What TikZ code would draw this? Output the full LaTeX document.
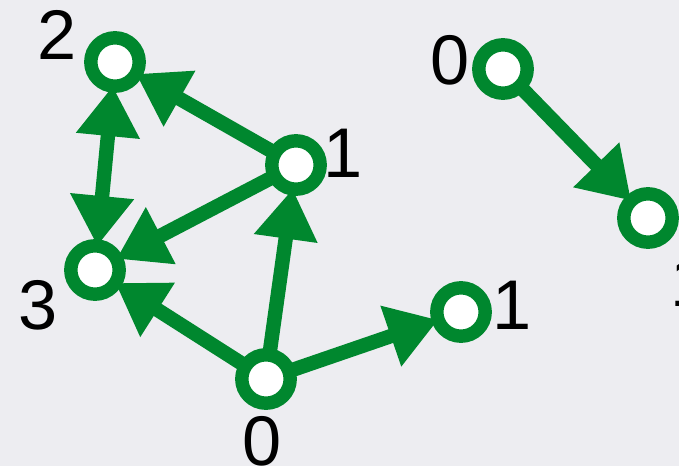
\documentclass[tikz,border=0pt]{standalone}
\usepackage{fontspec}
\setmainfont{Liberation Sans}
\usetikzlibrary{arrows.meta}
\definecolor{gGreen}{RGB}{0,135,46}
\definecolor{paper}{RGB}{237,237,241}

\begin{document}
\begin{tikzpicture}[x=0.025cm, y=-0.025cm,
    vertex/.style={circle, draw=gGreen, fill=white, line width=0.335cm,
        minimum size=1.21cm, inner sep=0pt, outer sep=0pt},
    edge/.style={gGreen, line width=0.36cm,
        -{Triangle[length=1.25cm, width=1.52cm]}},
    num/.style={font=\fontsize{50}{60}\selectfont, inner sep=0pt}
]

% background / frame
\fill[paper] (0,0) rectangle (679,466);
\useasboundingbox (0,0) rectangle (679,466);

% =========================
% left graph
% =========================
\node[vertex] (v2) at (115,62) {};
\node[vertex] (v1) at (296,165) {};
\node[vertex] (v3) at (95,270) {};
\node[vertex] (v0) at (266,379) {};
\node[vertex] (v4) at (461,312) {};

% labels
\node[num] (l2) at (57,35) {2};
\node[num] (l1) at (343,153) {1};
\node[num] (l3) at (38,305) {3};
\node[num] (l0) at (262,441) {0};
\node[num] (l4) at (512,305) {1};

% edges
\draw[edge] (v0) -- (v1);
\draw[edge] (v0) -- (v3);
\draw[edge] (v0) -- (v4);
\draw[edge] (v1) -- (v2);
\draw[edge] (v1) -- (v3);
\draw[edge, {Triangle[length=1.25cm, width=1.52cm]}-{Triangle[length=1.25cm, width=1.52cm]}]
    (v2) -- (v3);

% =========================
% right graph
% =========================
\node[vertex] (w0) at (503,69) {};
\node[vertex] (w1) at (648,218) {};

\node[num] (m0) at (450,60) {0};
\node[num] (m1) at (690,282) {1};

\draw[edge] (w0) -- (w1);

\end{tikzpicture}
\end{document}
